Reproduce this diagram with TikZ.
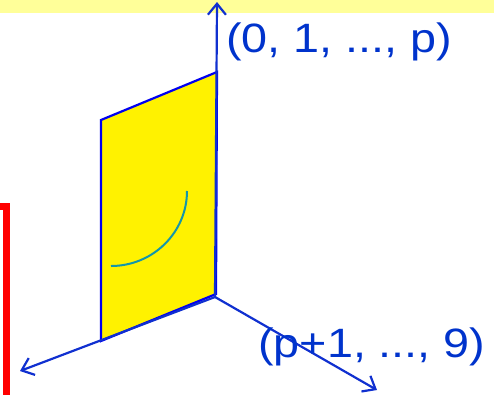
\documentclass[tikz,border=0pt]{standalone}
\usepackage{fontspec}
\setmainfont{Liberation Sans}
\usetikzlibrary{arrows.meta}
\definecolor{bandyellow}{RGB}{255,255,153}
\definecolor{axisblue}{RGB}{16,48,208}
\definecolor{edgeblue}{RGB}{0,0,240}
\definecolor{textblue}{RGB}{0,51,204}
\definecolor{arcteal}{RGB}{20,150,170}
\definecolor{redbar}{RGB}{255,0,0}
\tikzset{
  axis/.style={draw=axisblue, line width=2.2pt, -{Straight Barb[length=11pt,width=18pt,line width=2.2pt]}},
  lbl/.style={text=textblue, font=\fontsize{41}{41}\selectfont, inner sep=0pt, anchor=west}
}
\begin{document}
\begin{tikzpicture}[x=1pt,y=-1pt]
\useasboundingbox (0,0) rectangle (494,394);
\fill[bandyellow] (0,0) rectangle (494,13);
\draw[redbar, line width=7pt] (-20,206.5) -- (6.5,206.5) -- (6.5,420);
\coordinate (O) at (215,297);
\coordinate (Z) at (217,2);
\coordinate (X) at (20,371);
\coordinate (Y) at (377,390);
\draw[fill=yellow, draw=edgeblue, line width=2.2pt] (101,120) -- (217,72) -- (216,294) -- (101,341) -- cycle;
\draw[arcteal, line width=2pt] (187,191) arc[start angle=0, end angle=90, x radius=76, y radius=75];
\draw[axis] (O) -- (Z);
\draw[axis] (O) -- (X);
\draw[axis] (O) -- (Y);
\node[lbl] (l1) at (226,42) {\scalebox{1.14}[1]{(0, 1, ..., p)}};
\node[lbl] (l2) at (258,347) {\scalebox{1.14}[1]{(p+1, ..., 9)}};
\end{tikzpicture}
\end{document}
